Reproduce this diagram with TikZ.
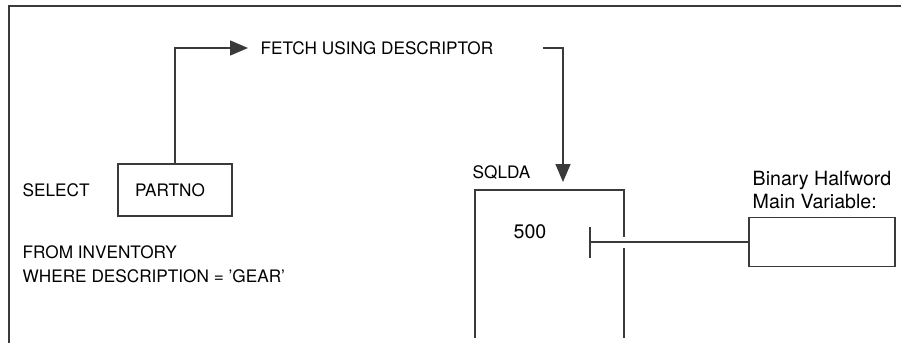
\documentclass[tikz,border=0pt]{standalone}
\usepackage{fontspec}
\setmainfont{TeX Gyre Heros}
\usepackage{xcolor}
\usepackage{tikz}
\usetikzlibrary{arrows.meta, positioning, calc}
\definecolor{linegray}{HTML}{3A3A3A}

\begin{document}
\begin{tikzpicture}[x=0.5pt, y=-0.5pt,
    line width=0.7pt, draw=linegray,
    txt/.style={inner sep=0pt, font=\fontsize{8.6}{10}\selectfont, text=black},
    bigtxt/.style={txt, font=\fontsize{9.8}{12}\selectfont},
    box/.style={draw=linegray, rectangle, inner sep=0pt},
    tip/.style={-{Triangle[length=9pt, width=7.5pt]}}]
    \useasboundingbox (0,0) rectangle (901,343);

    % Frame
    \draw (9,343) -- (9,6) -- (901,6);

    % Query text
    \node[txt, anchor=west] (select) at (22,190) {SELECT};
    \node[box, minimum width=57pt, minimum height=26pt] (partno) at (175,190) {};
    \node[txt] (partnotxt) at (170,190) {PARTNO};
    \node[txt, anchor=base west] (from) at (22,258) {FROM INVENTORY};
    \node[txt, anchor=base west] (where) at (22,282) {WHERE DESCRIPTION = 'GEAR'};

    % Fetch statement
    \node[txt, anchor=west] (fetch) at (260,48) {FETCH USING DESCRIPTOR};
    \draw[tip] (partno.north) |- ($(fetch.west)+(-12,0)$);

    % SQLDA area
    \node[txt, anchor=base west] (sqlda) at (472,178) {SQLDA};
    \coordinate (sqldatop) at (563,190);
    \draw[tip, shorten >=4pt] ($(fetch.east)+(49,0)$) -| (sqldatop);
    \draw (475,338) -- (475,190) -- (624,190) -- (624,237);
    \draw (624,248) -- (624,338);
    \node[bigtxt, anchor=base] (count) at (530,238) {500};
    \coordinate (tick) at (590,242);
    \draw ($(tick)+(0,-15)$) -- ($(tick)+(0,16)$);

    % Main variable
    \node[box, minimum width=73pt, minimum height=24.5pt] (halfbox) at (822,242) {};
    \node[bigtxt, anchor=base west] (halflbl) at (752,185) {Binary Halfword};
    \node[bigtxt, anchor=base west] (mainlbl) at (752,208) {Main Variable:};
    \draw (halfbox.west) -- (tick);
\end{tikzpicture}
\end{document}
